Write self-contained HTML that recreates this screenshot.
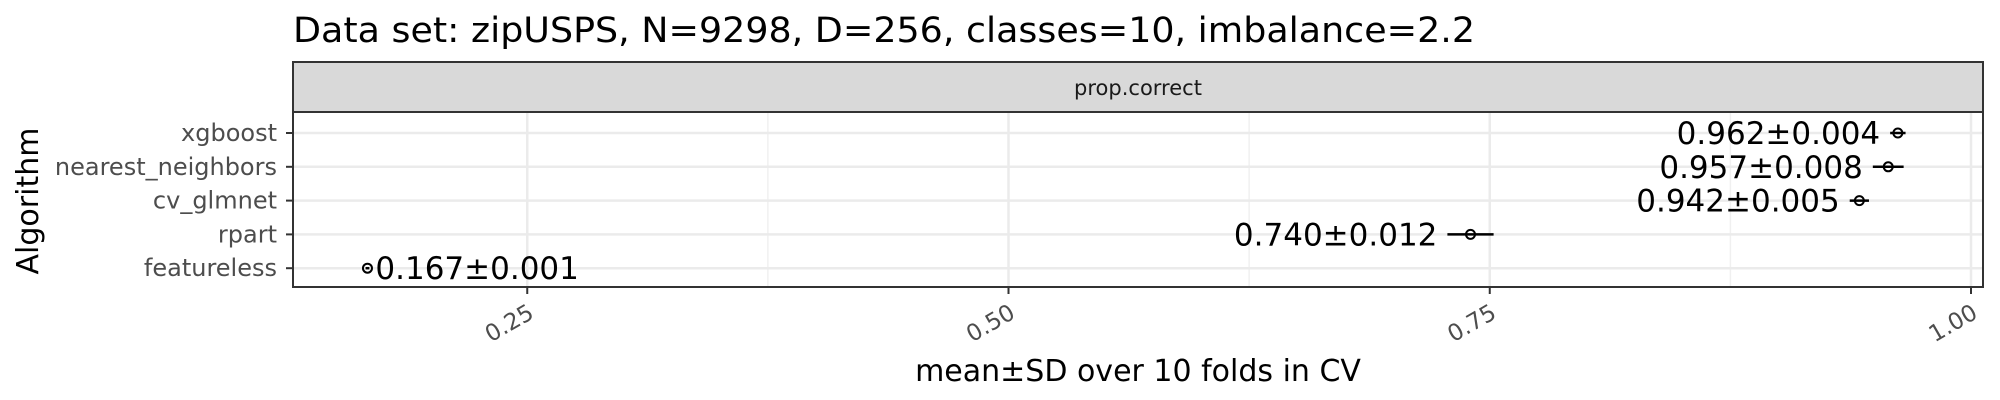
<!DOCTYPE html>
<html><head><meta charset="utf-8"><style>
body{margin:0;background:#fff}
svg{display:block;font-family:"DejaVu Sans","Liberation Sans",sans-serif}
</style></head><body>
<svg id="chart" width="2000" height="400" xmlns="http://www.w3.org/2000/svg">
<text x="293" y="42" font-size="35" textLength="1182" lengthAdjust="spacingAndGlyphs">Data set: zipUSPS, N=9298, D=256, classes=10, imbalance=2.2</text>
<rect x="293" y="62" width="1690" height="50" fill="#d9d9d9" stroke="#333" stroke-width="2"/>
<text x="1138" y="95" font-size="21" text-anchor="middle" fill="#1a1a1a">prop.correct</text>
<g id="grid"></g>
<g id="marks"></g>
<rect x="293" y="112" width="1690" height="175" fill="none" stroke="#333" stroke-width="2"/>
<g id="axes"></g>
<text x="1138" y="381" font-size="30" text-anchor="middle">mean±SD over 10 folds in CV</text>
<text transform="translate(38,201) rotate(-90)" font-size="30" text-anchor="middle">Algorithm</text>
</svg>
<script>
const algorithms = ["xgboost","nearest_neighbors","cv_glmnet","rpart","featureless"];
const means = [0.962,0.957,0.942,0.740,0.167];
const sds = [0.004,0.008,0.005,0.012,0.001];
const labels = ["0.962±0.004","0.957±0.008","0.942±0.005","0.740±0.012","0.167±0.001"];
const xTicks = [0.25,0.5,0.75,1.0];
const xTickLabels = ["0.25","0.50","0.75","1.00"];
const xMinor = [0.375,0.625,0.875];

const NS="http://www.w3.org/2000/svg";
const X0=293,X1=1983,Y0=112,Y1=287;
function xs(v){return 46+1925*v;}
function ys(i){return 133+i*33.8;}
function mk(tag,attrs,parent){const e=document.createElementNS(NS,tag);for(const k in attrs)e.setAttribute(k,attrs[k]);parent.appendChild(e);return e;}
const grid=document.getElementById('grid'),marks=document.getElementById('marks'),axes=document.getElementById('axes');
mk('rect',{x:X0,y:Y0,width:X1-X0,height:Y1-Y0,fill:'#fff'},grid);
xMinor.forEach(v=>{const l=mk('line',{x1:xs(v),x2:xs(v),y1:Y0,y2:Y1,stroke:'#f0f0f0','stroke-width':1.5},grid);

});
xTicks.forEach((v,i)=>{const l=mk('line',{x1:xs(v),x2:xs(v),y1:Y0,y2:Y1,stroke:'#ebebeb','stroke-width':2.5},grid);


const t=mk('line',{x1:xs(v),x2:xs(v),y1:Y1,y2:Y1+7,stroke:'#333','stroke-width':2},axes);


const tx=mk('text',{x:0,y:0,'font-size':23,fill:'#4d4d4d','text-anchor':'end',transform:`translate(${xs(v)+8},${Y1+30}) rotate(-30)`},axes);
tx.textContent=xTickLabels[i];

});
algorithms.forEach((a,i)=>{const y=ys(i);
const g=mk('line',{x1:X0,x2:X1,y1:y,y2:y,stroke:'#ebebeb','stroke-width':2.5},grid);


const t=mk('line',{x1:X0-7,x2:X0,y1:y,y2:y,stroke:'#333','stroke-width':2},axes);


const tl=mk('text',{x:X0-16,y:y+8,'font-size':24,fill:'#4d4d4d','text-anchor':'end'},axes);
tl.textContent=a;


const lo=xs(means[i]-sds[i]),hi=xs(means[i]+sds[i]),cx=xs(means[i]);
const e=mk('line',{x1:lo,x2:hi,y1:y,y2:y,stroke:'#000','stroke-width':2.5},marks);


const c=mk('circle',{cx:cx,cy:y,r:4.5,fill:'none',stroke:'#000','stroke-width':2},marks);


const left=means[i]>0.5;
const lab=mk('text',{x:left?lo-10:hi+6,y:y+11,'font-size':31,'text-anchor':left?'end':'start'},marks);
lab.textContent=labels[i];

});
</script>
</body></html>
